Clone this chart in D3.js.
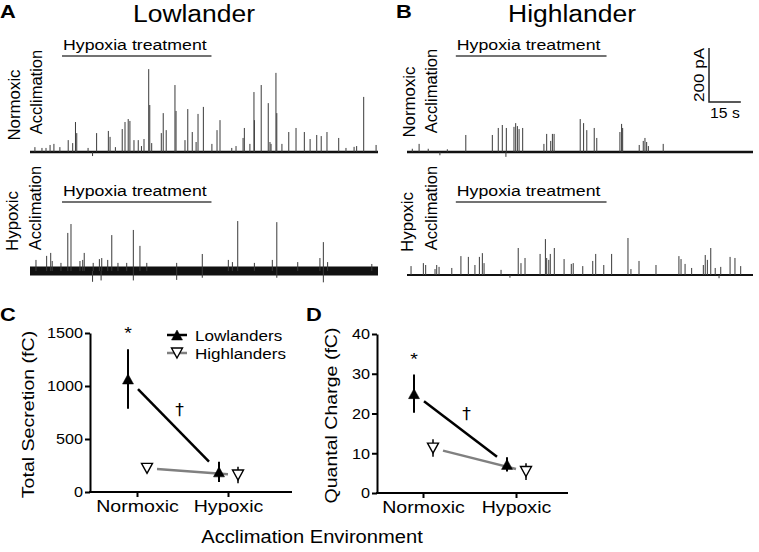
<!DOCTYPE html>
<html><head><meta charset="utf-8">
<script src="https://cdn.jsdelivr.net/npm/d3@7"></script>
<style>
body{margin:0;background:#fff}
svg{display:block}
text{font-family:"Liberation Sans",Arial,Helvetica,sans-serif;fill:#000}
</style>
</head><body>
<svg id="fig" width="759" height="552"></svg>
<script>
// ---------------- DATA ----------------
// Amperometric recordings: spikes as [time (s), amplitude (pA)]
const traceDuration = 163;                 // s
const treatmentLowlander = [15, 85];       // hypoxia treatment window (s)
const treatmentHighlander = [23, 94];
const scaleBarCurrent = 200;               // pA
const scaleBarTime = 15;                   // s

const spikesLowNormoxic = [
  [2.3,18],[5.6,15],[7.5,15],[9.4,26],[11.2,30],[14,18],[17.9,44],[20.0,33],[21.3,111],[21.9,70],
  [27.2,15],[29.3,-15],[31.2,70],[36.7,78],[37.5,56],[40,18],[43.2,85],[44.5,111],[46.0,122],[46.8,115],
  [48.7,44],[50.7,44],[52.2,22],[53.4,48],[55.6,307],[56.1,174],[57.0,33],[61.5,70],[62.4,144],[63.8,81],
  [67.9,248],[68.4,152],[72.6,44],[73.9,159],[76.0,74],[77.8,37],[78.7,141],[81.2,167],[85.2,30],
  [87.6,81],[89.0,118],[94.5,15],[96.5,22],[99.8,52],[100.4,89],[103.0,30],[104.9,222],[105.1,118],
  [108.3,248],[111.6,181],[112.4,37],[112.9,30],[115.2,293],[115.6,144],[118.0,30],[121.2,74],
  [124.6,89],[128.5,74],[131.2,48],[134.3,63],[136.4,59],[139.1,74],[144.6,52],[148,15],[151.8,19],
  [153.0,22],[156.3,204],[162.1,26]
];
const spikesLowHypoxic = [
  [2.8,41],[7.8,56],[9.7,67],[10.4,37],[14.5,30],[17.7,141],[19.2,174],[23.4,37],[24.7,41],[25.4,67],
  [29.6,30],[29.3,-40],[32.5,44],[33.3,-35],[33.6,48],[36.4,41],[38.3,133],[41.2,30],[45.3,30],
  [48.4,152],[48.4,-35],[51.5,93],[54.7,30],[68.7,30],[68.7,-33],[80.7,63],[80.7,-25],[92.9,41],
  [94.8,33],[97.3,185],[105.1,30],[113.5,41],[115.6,181],[115.6,-25],[125.4,33],[135.8,48],
  [137.4,107],[137.4,-42],[139.4,33],[160.1,26]
];
const spikesHighNormoxic = [
  [2.5,12],[5.7,30],[10,12],[15.5,-12],[19,10],[27.7,63],[40.2,63],[43.0,89],[44.9,100],[46.6,-18],
  [46.8,89],[50.4,93],[51.2,107],[52.0,96],[52.8,85],[54.5,89],[64.5,30],[65.8,67],[67.7,41],
  [68.5,67],[69.3,67],[81.6,122],[83.2,107],[84.7,81],[88.2,89],[89.4,52],[100.3,74],[101.1,104],
  [101.6,89],[109.4,26],[111.3,41],[112.1,52],[112.9,37],[113.7,22],[120.7,30]
];
const spikesHighHypoxic = [
  [1.9,33],[7.7,44],[8.8,37],[13.2,22],[14.0,37],[15.1,30],[21.1,26],[25.4,70],[28.9,67],[32.0,37],
  [34.1,67],[35.5,81],[36.3,44],[44.3,19],[48.5,-10],[52.4,100],[53.7,44],[55.6,63],[62.7,78],
  [65.2,133],[65.8,63],[66.8,56],[67.5,78],[69.4,100],[74.0,59],[77.4,41],[78.3,44],[82.8,33],
  [87.5,52],[88.9,78],[92.7,37],[96.4,78],[104.1,137],[105.5,22],[109.3,52],[117.3,37],[128.1,70],
  [129.1,59],[131.0,41],[134.1,26],[139.6,37],[140.5,74],[141.5,56],[143.1,100],[145.2,26],
  [147,-12],[147.8,30],[152.2,67],[154.5,63],[157.2,33]
];

// Summary panels
const categories = ["Normoxic", "Hypoxic"];
const seriesNames = ["Lowlanders", "Highlanders"];
const secretionLow = [1066, 190];
const secretionLowErr = [280, 95];
const secretionHigh = [223, 160];
const secretionHighErr = [30, 78];
const secretionTicks = [0, 500, 1000, 1500];
const quantalLow = [25, 7.2];
const quantalLowErr = [4.8, 1.8];
const quantalHigh = [11.3, 5.4];
const quantalHighErr = [2.2, 2.1];
const quantalTicks = [0, 10, 20, 30, 40];

// ---------------- DRAWING ----------------
const svg = d3.select("#fig");
const SX = 1.15;  // horizontal text width factor of the original typeface

function stretchBy(t, k) {
  t.each(function () {
    const L = this.getComputedTextLength();
    d3.select(this).attr("textLength", L * k).attr("lengthAdjust", "spacingAndGlyphs");
  });
  return t;
}
function stretch(t) { return stretchBy(t, SX); }
function txt(x, y, s, size, o = {}) {
  const t = svg.append("text").attr("x", x).attr("y", y).attr("font-size", size).text(s);
  if (o.anchor) t.attr("text-anchor", o.anchor);
  if (o.weight) t.attr("font-weight", o.weight);
  if (o.rotate) t.attr("transform", `rotate(-90 ${x} ${y})`);
  if (o.family) t.style("font-family", o.family);
  return stretchBy(t, o.k === undefined ? SX : o.k);
}

// Titles & panel letters
txt(0, 18, "A", 19, {weight: "bold"});
txt(396, 18, "B", 19, {weight: "bold"});
txt(0, 321, "C", 19, {weight: "bold"});
txt(306, 321, "D", 19, {weight: "bold"});
txt(194, 22, "Lowlander", 23, {anchor: "middle"});
txt(572, 22, "Highlander", 23, {anchor: "middle"});

const ampScale = d3.scaleLinear().domain([0, scaleBarCurrent]).range([0, 54]);
const tScaleA = d3.scaleLinear().domain([0, traceDuration]).range([30, 378]);
const tScaleB = d3.scaleLinear().domain([0, traceDuration]).range([407, 753]);

function drawTrace(spikes, tScale, baseY, band) {
  const g = svg.append("g");
  g.append("line")
    .attr("x1", tScale(0)).attr("x2", tScale(traceDuration))
    .attr("y1", baseY).attr("y2", baseY)
    .attr("stroke", "#111").attr("stroke-width", band);
  g.selectAll(null).data(spikes).join("line")
    .attr("x1", d => tScale(d[0])).attr("x2", d => tScale(d[0]))
    .attr("y1", baseY).attr("y2", d => baseY - ampScale(d[1]))
    .attr("stroke", "#3a3a3a").attr("stroke-width", 1);
}
function drawTreatment(win, tScale, barY) {
  svg.append("line").attr("x1", tScale(win[0])).attr("x2", tScale(win[1]))
    .attr("y1", barY).attr("y2", barY).attr("stroke", "#444").attr("stroke-width", 1.3);
  txt(tScale(win[0]) + 1, barY - 6, "Hypoxia treatment", 15.4);
}
function rowLabels(x1, x2, c1, c2, first) {
  txt(x1, c1, first, 16.5, {anchor: "middle", rotate: true, k: 1.02});
  txt(x2, c2, "Acclimation", 16.5, {anchor: "middle", rotate: true, k: 1.0});
}

drawTrace(spikesLowNormoxic, tScaleA, 152, 2.5);
drawTrace(spikesLowHypoxic, tScaleA, 271, 9);
drawTrace(spikesHighNormoxic, tScaleB, 152, 2.5);
drawTrace(spikesHighHypoxic, tScaleB, 275, 2);
drawTreatment(treatmentLowlander, tScaleA, 56);
drawTreatment(treatmentLowlander, tScaleA, 202);
drawTreatment(treatmentHighlander, tScaleB, 56);
drawTreatment(treatmentHighlander, tScaleB, 202);
rowLabels(20, 42, 105, 92, "Normoxic");
rowLabels(18, 41, 221, 208, "Hypoxic");
rowLabels(415, 437, 102, 91, "Normoxic");
rowLabels(413, 437, 222, 208, "Hypoxic");

// Scale bar
const sbX = 709, sbY = 102;
svg.append("path")
  .attr("d", `M${sbX},${sbY - ampScale(scaleBarCurrent)}V${sbY}H${sbX + (tScaleB(scaleBarTime) - tScaleB(0))}`)
  .attr("fill", "none").attr("stroke", "#222").attr("stroke-width", 1.5);
txt(704, sbY - ampScale(scaleBarCurrent) / 2, scaleBarCurrent + " pA", 15.5, {anchor: "middle", rotate: true, k: 1.1});
txt(sbX + (tScaleB(scaleBarTime) - tScaleB(0)) / 2, 118, scaleBarTime + " s", 15, {anchor: "middle", k: 1.05});

// Triangle markers
function tri(up, w = 11, h = 10) {
  return up ? `M0,${-h / 2}L${w / 2},${h / 2}L${-w / 2},${h / 2}Z`
            : `M0,${h / 2}L${w / 2},${-h / 2}L${-w / 2},${-h / 2}Z`;
}

function drawPanel(cfg) {
  const y = d3.scaleLinear().domain([cfg.ticks[0], cfg.ticks[cfg.ticks.length - 1]]).range(cfg.yRange);
  const x = d3.scalePoint().domain(categories).range(cfg.xRange);
  const dodge = [-9, 10];
  const g = svg.append("g");

  // axes
  const ya = g.append("g").attr("transform", `translate(${cfg.axisX0},0)`)
    .call(d3.axisLeft(y).tickValues(cfg.ticks).tickFormat(d3.format("d"))
      .tickSize(5).tickSizeOuter(0).tickPadding(2));
  ya.selectAll("path,line").attr("stroke", "#000").attr("stroke-width", 2);
  ya.selectAll("text").attr("font-size", 15).attr("font-family", null).call(t => stretchBy(t, 1.08));
  const xa = g.append("g").attr("transform", `translate(0,${cfg.yRange[0]})`)
    .call(d3.axisBottom(x).tickSize(5).tickSizeOuter(0).tickPadding(3));
  xa.select(".domain").remove();
  xa.selectAll("line").attr("stroke", "#000").attr("stroke-width", 2);
  xa.selectAll("text").attr("font-size", 17).attr("font-family", null).call(stretch);
  g.append("line").attr("x1", cfg.axisX0 - 1).attr("x2", cfg.axisX1)
    .attr("y1", cfg.yRange[0]).attr("y2", cfg.yRange[0])
    .attr("stroke", "#000").attr("stroke-width", 2);

  const series = [
    {vals: cfg.low, err: cfg.lowErr, up: true, color: "#000", fill: "#000", dx: dodge[0]},
    {vals: cfg.high, err: cfg.highErr, up: false, color: "#808080", fill: "#fff", dx: dodge[1]}
  ];
  // connecting lines (trimmed near markers)
  series.forEach(s => {
    const p = categories.map((c, i) => [x(c) + s.dx, y(s.vals[i])]);
    const f = 10 / (p[1][0] - p[0][0]);
    const a = [p[0][0] + (p[1][0] - p[0][0]) * f, p[0][1] + (p[1][1] - p[0][1]) * f];
    const b = [p[1][0] - (p[1][0] - p[0][0]) * f, p[1][1] - (p[1][1] - p[0][1]) * f];
    g.append("line").attr("x1", a[0]).attr("y1", a[1]).attr("x2", b[0]).attr("y2", b[1])
      .attr("stroke", s.color).attr("stroke-width", 2.5);
  });
  // error bars & markers
  series.forEach(s => {
    g.selectAll(null).data(categories).join("line")
      .attr("x1", (c) => x(c) + s.dx).attr("x2", (c) => x(c) + s.dx)
      .attr("y1", (c, i) => y(s.vals[i] - s.err[i])).attr("y2", (c, i) => y(s.vals[i] + s.err[i]))
      .attr("stroke", "#000").attr("stroke-width", s.up ? 2 : 1.5);
    g.selectAll(null).data(categories).join("path")
      .attr("transform", (c, i) => `translate(${x(c) + s.dx},${y(s.vals[i])})`)
      .attr("d", tri(s.up))
      .attr("fill", s.fill).attr("stroke", "#000").attr("stroke-width", s.up ? 0.5 : 1.4);
  });
  // significance marks
  const nx = x(categories[0]) + dodge[0];
  txt(nx, y(cfg.low[0] + cfg.lowErr[0]) - 10, "*", 17, {anchor: "middle"});
  const mx = (x(categories[0]) + x(categories[1])) / 2 + dodge[0];
  const my = (y(cfg.low[0]) + y(cfg.low[1])) / 2;
  txt(mx + 6, my - 10, "\u2020", 15, {anchor: "middle", family: "'DejaVu Sans', sans-serif"});
  // y label
  txt(cfg.labelX, (cfg.yRange[0] + cfg.yRange[1]) / 2 + 2, cfg.label, 17, {anchor: "middle", rotate: true});

  if (cfg.legend) {
    series.forEach((s, i) => {
      const ly = 335 + i * 18;
      g.append("line").attr("x1", 167).attr("x2", 187).attr("y1", ly).attr("y2", ly)
        .attr("stroke", s.color).attr("stroke-width", 2.5);
      g.append("path").attr("transform", `translate(177,${ly})`).attr("d", tri(s.up))
        .attr("fill", s.fill).attr("stroke", "#000").attr("stroke-width", s.up ? 0.5 : 1.4);
      txt(195, ly + 5.5, seriesNames[i], 15.5, {k: 1.1});
    });
  }
}

drawPanel({
  ticks: secretionTicks, yRange: [492, 333], xRange: [137, 228], axisX0: 90, axisX1: 292,
  low: secretionLow, lowErr: secretionLowErr, high: secretionHigh, highErr: secretionHighErr,
  label: "Total Secretion (fC)", labelX: 33.5, legend: true
});
drawPanel({
  ticks: quantalTicks, yRange: [493, 334], xRange: [423, 516], axisX0: 377, axisX1: 568,
  low: quantalLow, lowErr: quantalLowErr, high: quantalHigh, highErr: quantalHighErr,
  label: "Quantal Charge (fC)", labelX: 337, legend: false
});

txt(312, 543, "Acclimation Environment", 17.5, {anchor: "middle"});
</script>
</body></html>
